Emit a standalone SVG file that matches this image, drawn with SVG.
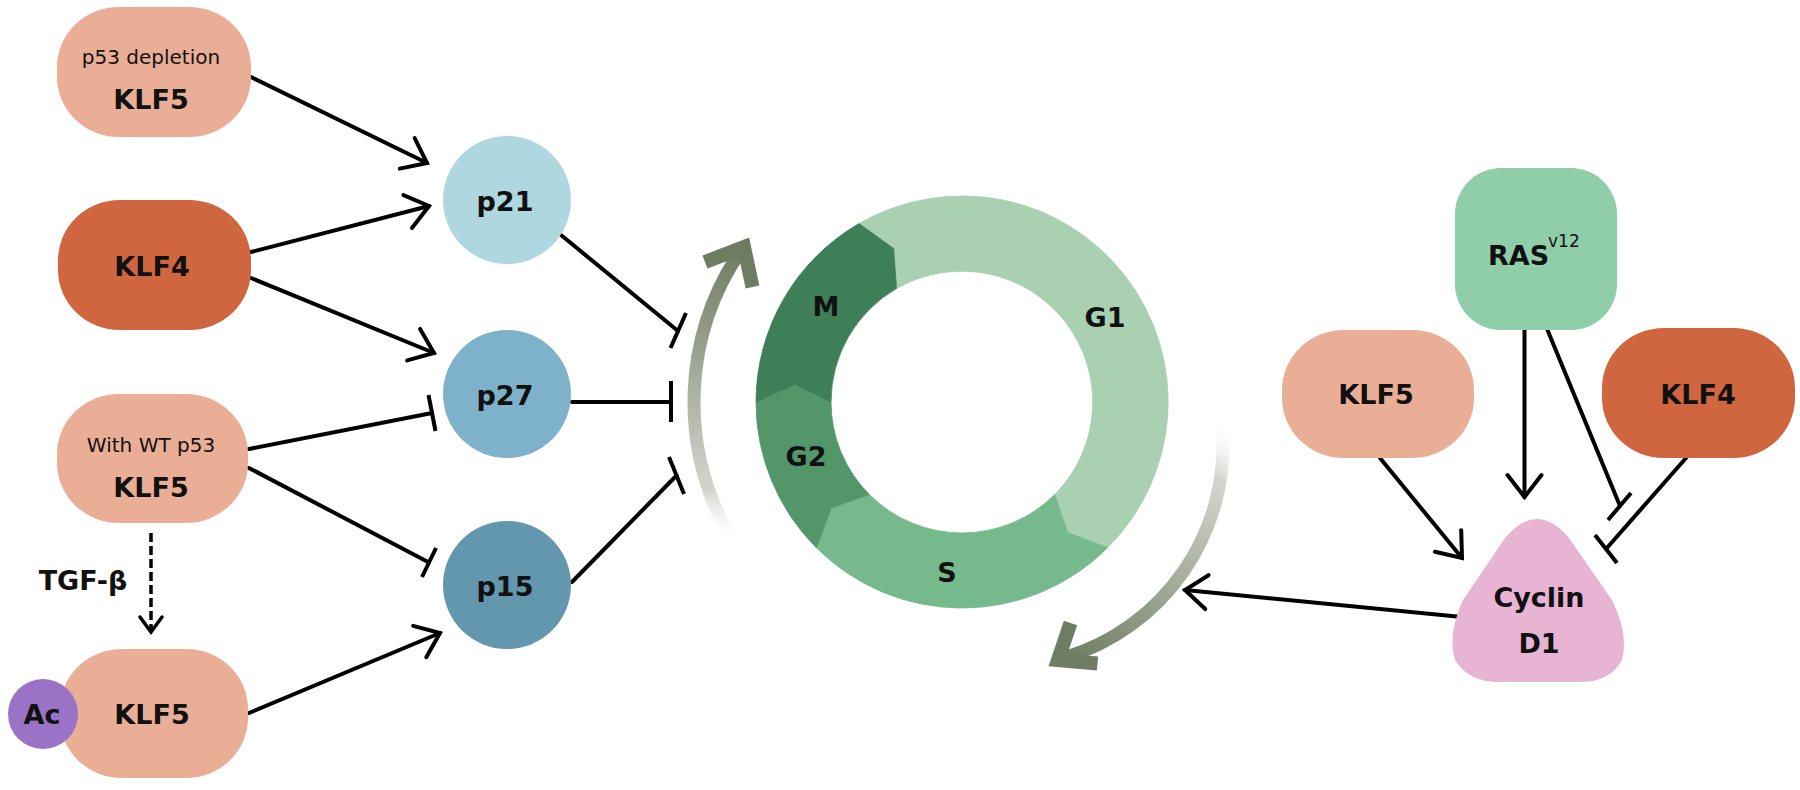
<svg xmlns="http://www.w3.org/2000/svg" width="1800" height="790" viewBox="0 0 1800 790">
<defs>
<style>
text{font-family:"DejaVu Sans","Liberation Sans",sans-serif;font-weight:bold;font-size:27px;fill:#111;text-anchor:middle}
.sm{font-weight:normal;font-size:20px}
.sup{font-weight:normal;font-size:17px}
.ln{stroke:#000;stroke-width:4;fill:none;stroke-linecap:round}
.bar{stroke:#000;stroke-width:4;fill:none;stroke-linecap:butt}
.k5{fill:#eaae96}
.k4{fill:#d0663f}
.head{fill:none;stroke:#6e7d62;stroke-width:14;stroke-linejoin:miter;stroke-linecap:butt}
</style>
<marker id="arr" viewBox="0 0 40 40" refX="34" refY="20" markerWidth="40" markerHeight="40" markerUnits="userSpaceOnUse" orient="auto">
<path d="M12,3 L34,20 L12,37" fill="none" stroke="#000" stroke-width="4" stroke-linecap="round"/>
</marker>
<marker id="arrs" viewBox="0 0 28 30" refX="21" refY="15" markerWidth="28" markerHeight="30" markerUnits="userSpaceOnUse" orient="auto">
<path d="M6,4 L21,15 L6,26" fill="none" stroke="#000" stroke-width="3.5" stroke-linecap="round"/>
</marker>
<linearGradient id="gl" gradientUnits="userSpaceOnUse" x1="730" y1="545" x2="744" y2="250">
<stop offset="0" stop-color="#ffffff" stop-opacity="0"/>
<stop offset="0.18" stop-color="#d3d6cd"/>
<stop offset="0.6" stop-color="#a1a896"/>
<stop offset="1" stop-color="#6e7d62"/>
</linearGradient>
<linearGradient id="gr" gradientUnits="userSpaceOnUse" x1="1224" y1="420" x2="1066" y2="657">
<stop offset="0" stop-color="#ffffff" stop-opacity="0"/>
<stop offset="0.18" stop-color="#d3d6cd"/>
<stop offset="0.6" stop-color="#a1a896"/>
<stop offset="1" stop-color="#6e7d62"/>
</linearGradient>
</defs>

<g id="cell-cycle">
<path d="M859,223.6 A206,206 0 0 1 1107.7,547.7 L1067.7,532.6 L1054.6,494.6 A131,131 0 0 0 896.5,288.6 L893.7,248.5 Z" fill="#a8d0b1" stroke="#a8d0b1" stroke-width="0.8"/>
<path d="M1107.7,547.7 A206,206 0 0 1 816.3,547.7 L831.4,507.7 L869.4,494.6 A131,131 0 0 0 1054.6,494.6 L1067.7,532.6 Z" fill="#76b98d" stroke="#76b98d" stroke-width="0.8"/>
<path d="M816.3,547.7 A206,206 0 0 1 756,402 L794.9,384.4 L831,402 A131,131 0 0 0 869.4,494.6 L831.4,507.7 Z" fill="#52966a" stroke="#52966a" stroke-width="0.8"/>
<path d="M756,402 A206,206 0 0 1 859,223.6 L893.7,248.5 L896.5,288.6 A131,131 0 0 0 831,402 L794.9,384.4 Z" fill="#3f7f58" stroke="#3f7f58" stroke-width="0.8"/>
<text x="826" y="316">M</text>
<text x="1105" y="327">G1</text>
<text x="806" y="466">G2</text>
<text x="947" y="582">S</text>
</g>

<g id="cycle-arrows">
<path d="M729.9,536 A268,268 0 0 1 742.5,248.3" fill="none" stroke="url(#gl)" stroke-width="13"/>
<polyline class="head" points="705,262 744,247 752.5,287"/>
<path d="M1222.5,429.5 A222,222 0 0 1 1065.9,657.3" fill="none" stroke="url(#gr)" stroke-width="13"/>
<polyline class="head" points="1070.5,623 1058,660 1097.5,663.5"/>
</g>

<g id="connectors">
<line class="ln" x1="251" y1="77" x2="427" y2="163" marker-end="url(#arr)"/>
<line class="ln" x1="251" y1="252" x2="429" y2="206" marker-end="url(#arr)"/>
<line class="ln" x1="251" y1="278" x2="434" y2="353" marker-end="url(#arr)"/>
<line class="ln" x1="249" y1="713" x2="440" y2="633" marker-end="url(#arr)"/>
<line x1="151" y1="533" x2="151" y2="632" stroke="#000" stroke-width="3.5" stroke-dasharray="9 4" marker-end="url(#arrs)"/>
<line class="ln" x1="249" y1="449" x2="432" y2="413"/>
<line class="bar" x1="428.5" y1="395" x2="435.5" y2="431"/>
<line class="ln" x1="249" y1="468" x2="429" y2="562.5"/>
<line class="bar" x1="436" y1="548" x2="422" y2="577"/>
<line class="ln" x1="561" y1="235" x2="678" y2="331"/>
<line class="bar" x1="670.5" y1="348" x2="686" y2="313"/>
<line class="ln" x1="572" y1="402" x2="671" y2="402"/>
<line class="bar" x1="671" y1="381" x2="671" y2="422"/>
<line class="ln" x1="572" y1="582" x2="676.5" y2="475.5"/>
<line class="bar" x1="669" y1="457" x2="684" y2="494"/>
<line class="ln" x1="1380" y1="458" x2="1462" y2="558" marker-end="url(#arr)"/>
<line class="ln" x1="1524.5" y1="330" x2="1524.5" y2="497" marker-end="url(#arr)"/>
<line class="ln" x1="1547.5" y1="330" x2="1620" y2="506"/>
<line class="bar" x1="1608" y1="520" x2="1631" y2="493"/>
<line class="ln" x1="1686" y1="458" x2="1606" y2="549"/>
<line class="bar" x1="1595" y1="535" x2="1617" y2="563"/>
<line class="ln" x1="1462" y1="617" x2="1185" y2="590" marker-end="url(#arr)"/>
</g>

<g id="klf5-p53-depletion">
<rect class="k5" x="57" y="7" width="194" height="130" rx="62" ry="60"/>
<text class="sm" x="151" y="64">p53 depletion</text>
<text x="151" y="109">KLF5</text>
</g>
<g id="klf4-left">
<rect class="k4" x="58" y="200" width="193" height="130" rx="62" ry="60"/>
<text x="152" y="276">KLF4</text>
</g>
<g id="klf5-wt-p53">
<rect class="k5" x="57" y="394" width="191" height="129" rx="62" ry="60"/>
<text class="sm" x="151" y="452">With WT p53</text>
<text x="151" y="497">KLF5</text>
</g>
<g id="tgf-beta-label">
<text x="83" y="590" font-size="28">TGF-β</text>
</g>
<g id="klf5-ac">
<rect class="k5" x="60" y="649" width="188" height="129" rx="62" ry="60"/>
<circle cx="43" cy="714" r="35" fill="#9a72c6"/>
<text x="42" y="724">Ac</text>
<text x="152" y="724">KLF5</text>
</g>
<g id="p21">
<circle cx="507" cy="200" r="64" fill="#afd7df"/>
<text x="505" y="211">p21</text>
</g>
<g id="p27">
<circle cx="507" cy="394" r="64" fill="#7eb2cb"/>
<text x="505" y="405">p27</text>
</g>
<g id="p15">
<circle cx="507" cy="585" r="64" fill="#6297ae"/>
<text x="505" y="596">p15</text>
</g>
<g id="ras">
<rect x="1455" y="168" width="162" height="162" rx="46" fill="#8fcea9"/>
<text x="1488" y="265" style="text-anchor:start">RAS<tspan class="sup" x="1548" y="247">v12</tspan></text>
</g>
<g id="klf5-right">
<rect class="k5" x="1282" y="330" width="192" height="128" rx="62" ry="60"/>
<text x="1376" y="404">KLF5</text>
</g>
<g id="klf4-right">
<rect class="k4" x="1602" y="328" width="193" height="130" rx="62" ry="60"/>
<text x="1698" y="404">KLF4</text>
</g>
<g id="cyclin-d1">
<path d="M1505,538 Q1537,500 1569,538 L1612,600 Q1629,635 1622,660 Q1610,682 1580,682 L1500,682 Q1468,682 1455,660 Q1447,635 1463,600 Z" fill="#e8b4d3"/>
<text x="1539" y="607">Cyclin</text>
<text x="1539" y="653">D1</text>
</g>
</svg>
